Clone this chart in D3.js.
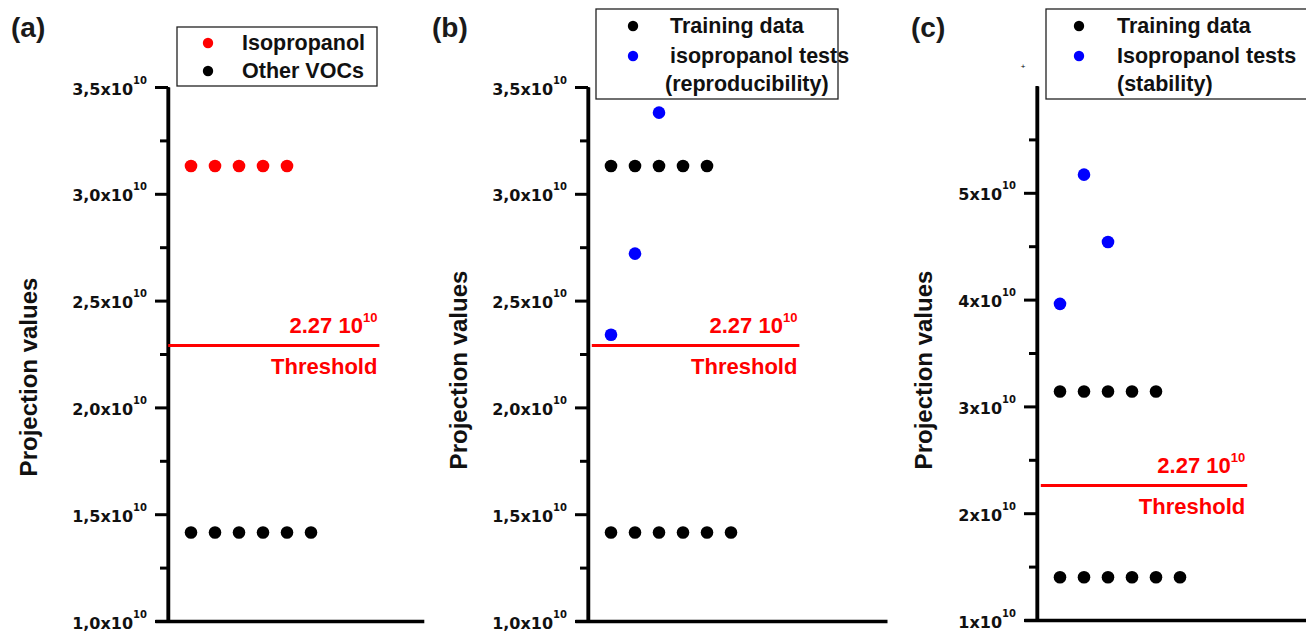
<!DOCTYPE html>
<html>
<head>
<meta charset="utf-8">
<script src="https://cdnjs.cloudflare.com/ajax/libs/d3/7.8.5/d3.min.js"></script>
<style>
  body { margin: 0; background: #fff; }
  svg { display: block; font-family: "Liberation Sans", Arial, sans-serif; }
  .axis path, .axis line { stroke: #000; }
  .axis .domain { stroke-width: 3.5; }
  .axis line { stroke-width: 3; }
</style>
</head>
<body>
<div id="chart"></div>
<script>
// values (projection values)
var categoriesA = [1, 2, 3, 4, 5, 6];

var isopropanolA = [3.13e10, 3.13e10, 3.13e10, 3.13e10, 3.13e10];
var otherVocsA = [1.414e10, 1.414e10, 1.414e10, 1.414e10, 1.414e10, 1.414e10];

var trainingHighB = [3.13e10, 3.13e10, 3.13e10, 3.13e10, 3.13e10];
var trainingLowB = [1.414e10, 1.414e10, 1.414e10, 1.414e10, 1.414e10, 1.414e10];
var reproducibilityB = [2.34e10, 2.72e10, 3.38e10];

var trainingHighC = [3.14e10, 3.14e10, 3.14e10, 3.14e10, 3.14e10];
var trainingLowC = [1.40e10, 1.40e10, 1.40e10, 1.40e10, 1.40e10, 1.40e10];
var stabilityC = [3.96e10, 5.17e10, 4.54e10];

var thresholdValues = [2.29e10, 2.29e10, 2.26e10];
var thresholdText = "2.27 10";

var ticksAB = [1.0e10, 1.5e10, 2.0e10, 2.5e10, 3.0e10, 3.5e10];
var tickLabelsAB = ["1,0x10", "1,5x10", "2,0x10", "2,5x10", "3,0x10", "3,5x10"];
var minorAB = [1.25e10, 1.75e10, 2.25e10, 2.75e10, 3.25e10];

var ticksC = [1e10, 2e10, 3e10, 4e10, 5e10];
var tickLabelsC = ["1x10", "2x10", "3x10", "4x10", "5x10"];
var minorC = [1.5e10, 2.5e10, 3.5e10, 4.5e10, 5.5e10];

var W = 1306, H = 631;

var svg = d3.select("#chart").append("svg")
    .attr("width", W)
    .attr("height", H);

function panel(opt) {
  var g = svg.append("g");

  var x = d3.scaleLinear()
      .domain([-0.5, opt.xEnd])
      .range([opt.axisX - 13, opt.axisX - 13 + (opt.xEnd + 0.5) * 24]);

  var y = d3.scaleLinear()
      .domain(opt.yDomain)
      .range([opt.yBottom, opt.yTop]);

  // minor ticks
  g.append("g")
      .attr("class", "axis")
      .attr("transform", "translate(" + opt.axisX + ",0)")
      .call(d3.axisLeft(y).tickValues(opt.minor).tickSize(8).tickSizeOuter(0).tickFormat(""));

  var yAxis = g.append("g")
      .attr("class", "axis")
      .attr("transform", "translate(" + opt.axisX + ",0)")
      .call(d3.axisLeft(y).tickValues(opt.ticks).tickSize(13).tickPadding(8).tickSizeOuter(0));

  yAxis.selectAll(".tick text")
      .attr("dy", null)
      .attr("y", 7)
      .attr("fill", "#111")
      .style("font-family", "'DejaVu Sans', sans-serif")
      .style("font-weight", "bold")
      .style("font-size", "16px")
      .text(null)
      .each(function(d, i) {
        var t = d3.select(this);
        t.append("tspan").text(opt.tickLabels[i]);
        t.append("tspan").attr("dy", -11).style("font-size", "10px").text("10");
      });
  yAxis.select(".domain").remove();
  yAxis.append("line")
      .attr("x1", 0).attr("x2", 0)
      .attr("y1", opt.yTop).attr("y2", opt.yBottom)
      .attr("stroke", "#000").attr("stroke-width", 3.5);

  // x axis line
  g.append("g")
      .attr("class", "axis")
      .attr("transform", "translate(0," + opt.yBottom + ")")
      .call(d3.axisBottom(x).tickValues([]).tickSizeOuter(0));

  // threshold
  var ty = y(opt.threshold);
  g.append("line")
      .attr("x1", x(opt.thX[0])).attr("x2", x(opt.thX[1]))
      .attr("y1", ty).attr("y2", ty)
      .attr("stroke", "#ff0000").attr("stroke-width", 3);

  var tl = g.append("text")
      .attr("x", x(opt.thX[1]) - 2)
      .attr("y", ty - 12)
      .attr("text-anchor", "end")
      .attr("fill", "#ff0000")
      .style("font-weight", "bold")
      .style("font-size", "22px");
  tl.append("tspan").text(thresholdText);
  tl.append("tspan").attr("dy", -11).style("font-size", "13px").text("10");

  g.append("text")
      .attr("x", x(opt.thX[1]) - 2)
      .attr("y", ty + 29)
      .attr("text-anchor", "end")
      .attr("fill", "#ff0000")
      .style("font-weight", "bold")
      .style("font-size", "22px")
      .text("Threshold");

  // points
  opt.series.forEach(function(s) {
    g.selectAll(null)
        .data(s.values)
        .enter().append("circle")
        .attr("cx", function(d, i) { return x(categoriesA[i]); })
        .attr("cy", function(d) { return y(d); })
        .attr("r", 6.3)
        .attr("fill", s.color);
  });

  // y label
  g.append("text")
      .attr("transform", "translate(" + opt.labelX + "," + opt.labelY + ") rotate(-90)")
      .attr("text-anchor", "middle")
      .style("font-weight", "bold")
      .style("font-size", "24px")
      .attr("fill", "#111")
      .text("Projection values");

  // panel letter
  g.append("text")
      .attr("x", opt.letterX)
      .attr("y", 37)
      .style("font-weight", "bold")
      .style("font-size", "28px")
      .attr("fill", "#1a1a1a")
      .text(opt.letter);

  // legend
  var lg = g.append("g").attr("transform", "translate(" + opt.legend.x + "," + opt.legend.y + ")");
  lg.append("rect")
      .attr("width", opt.legend.w)
      .attr("height", opt.legend.h)
      .attr("fill", "#fff")
      .attr("stroke", "#222")
      .attr("stroke-width", 1.3);
  opt.legend.items.forEach(function(it) {
    if (it.color) {
      lg.append("circle")
          .attr("cx", opt.legend.dotX)
          .attr("cy", it.y - 7)
          .attr("r", 5.2)
          .attr("fill", it.color);
    }
    lg.append("text")
        .attr("x", it.tx)
        .attr("y", it.y)
        .style("font-weight", "bold")
        .style("font-size", "21.5px")
        .attr("fill", "#111")
        .text(it.text);
  });
  return g;
}

panel({
  letter: "(a)", letterX: 11,
  axisX: 168, xEnd: 10.7, yDomain: [1.0e10, 3.5e10], yTop: 87, yBottom: 621,
  ticks: ticksAB, tickLabels: tickLabelsAB, minor: minorAB,
  threshold: thresholdValues[0], thX: [0.05, 8.85],
  labelX: 37, labelY: 377,
  series: [
    {values: isopropanolA, color: "#ff0000"},
    {values: otherVocsA, color: "#000"}
  ],
  legend: {x: 177, y: 27, w: 200, h: 59, dotX: 31, items: [
    {text: "Isopropanol", color: "#ff0000", tx: 65, y: 23},
    {text: "Other VOCs", color: "#000", tx: 65, y: 51}
  ]}
});

panel({
  letter: "(b)", letterX: 432,
  axisX: 588, xEnd: 12.5, yDomain: [1.0e10, 3.5e10], yTop: 87, yBottom: 621,
  ticks: ticksAB, tickLabels: tickLabelsAB, minor: minorAB,
  threshold: thresholdValues[1], thX: [0.2, 8.85],
  labelX: 467, labelY: 370,
  series: [
    {values: trainingHighB, color: "#000"},
    {values: trainingLowB, color: "#000"},
    {values: reproducibilityB, color: "#0000ff"}
  ],
  legend: {x: 596, y: 9, w: 242, h: 90, dotX: 37, items: [
    {text: "Training data", color: "#000", tx: 74, y: 24},
    {text: "isopropanol tests", color: "#0000ff", tx: 74, y: 54},
    {text: "(reproducibility)", color: null, tx: 69, y: 82}
  ]}
});

panel({
  letter: "(c)", letterX: 911,
  axisX: 1037, xEnd: 13, yDomain: [1e10, 6e10], yTop: 86, yBottom: 620,
  ticks: ticksC, tickLabels: tickLabelsC, minor: minorC,
  threshold: thresholdValues[2], thX: [0.2, 8.8],
  labelX: 932, labelY: 370,
  series: [
    {values: trainingHighC, color: "#000"},
    {values: trainingLowC, color: "#000"},
    {values: stabilityC, color: "#0000ff"}
  ],
  legend: {x: 1046, y: 9, w: 300, h: 90, dotX: 33, items: [
    {text: "Training data", color: "#000", tx: 71, y: 24},
    {text: "Isopropanol tests", color: "#0000ff", tx: 71, y: 54},
    {text: "(stability)", color: null, tx: 71, y: 82}
  ]}
});

// small stray mark near panel (c)
svg.append("text")
    .attr("x", 1023).attr("y", 69)
    .attr("text-anchor", "middle")
    .style("font-size", "8px")
    .attr("fill", "#000")
    .text("+");
</script>
</body>
</html>
